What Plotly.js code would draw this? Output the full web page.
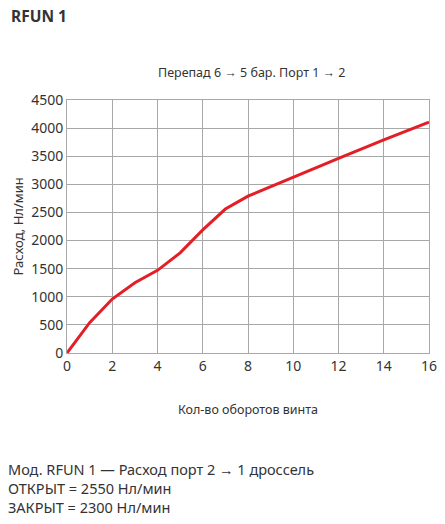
<!DOCTYPE html>
<html>
<head>
<meta charset="utf-8">
<script src="https://cdn.plot.ly/plotly-3.0.1.min.js"></script>
<style>html,body{margin:0;padding:0;background:#fff;}#chart{width:445px;height:524px;}</style>
</head>
<body>
<div id="chart"></div>
<script>
var turns = [0, 1, 2, 3, 4, 5, 6, 7, 8, 10, 12, 14, 16];
var flow = [0, 540, 960, 1250, 1470, 1780, 2190, 2560, 2790, 3130, 3460, 3790, 4105];
var xTicks = [0, 2, 4, 6, 8, 10, 12, 14, 16];
var yTicks = [0, 500, 1000, 1500, 2000, 2500, 3000, 3500, 4000, 4500];

var FONT = 'Noto Sans, sans-serif';
var trace = {
  x: turns, y: flow, type: 'scatter', mode: 'lines',
  line: {color: '#e41e26', width: 3},
  hoverinfo: 'skip'
};
var layout = {
  width: 445, height: 524,
  margin: {l: 67, r: 16, t: 100, b: 171},
  paper_bgcolor: '#fff', plot_bgcolor: '#fff',
  showlegend: false,
  font: {family: FONT, color: '#333', size: 14},
  xaxis: {
    range: [0, 16], tickvals: xTicks, ticktext: xTicks.map(String),
    showgrid: true, gridcolor: '#a8a8a8', gridwidth: 1,
    showline: true, linecolor: '#a8a8a8', linewidth: 1, mirror: true,
    zeroline: false, ticks: '', tickfont: {size: 14, color: '#333'},
    fixedrange: true
  },
  yaxis: {
    range: [0, 4500], tickvals: yTicks, ticktext: yTicks.map(String),
    showgrid: true, gridcolor: '#a8a8a8', gridwidth: 1,
    showline: true, linecolor: '#a8a8a8', linewidth: 1, mirror: true,
    zeroline: false, ticks: '', ticklen: 0, tickfont: {size: 14, color: '#333'},
    fixedrange: true
  },
  annotations: [
    {text: '<b>RFUN 1</b>', xref: 'paper', yref: 'paper', x: -58/362, y: 1 + 84/253, xanchor: 'left', yanchor: 'middle', showarrow: false, font: {size: 15.5, color: '#333', family: FONT}},
    {text: 'Перепад 6 → 5 бар. Порт 1 → 2', xref: 'paper', yref: 'paper', x: 0.51, y: 1 + 28/253, xanchor: 'center', yanchor: 'middle', showarrow: false, font: {size: 12.5, color: '#333', family: FONT}},
    {text: 'Кол-во оборотов винта', xref: 'paper', yref: 'paper', x: 0.5, y: -56/253, xanchor: 'center', yanchor: 'middle', showarrow: false, font: {size: 12.5, color: '#333', family: FONT}},
    {text: 'Расход, Нл/мин', xref: 'paper', yref: 'paper', x: -50/362, y: 0.5, xanchor: 'center', yanchor: 'middle', textangle: -90, showarrow: false, font: {size: 13, color: '#333', family: FONT}},
    {text: 'Мод. RFUN 1 — Расход порт 2 → 1 дроссель<br>ОТКРЫТ = 2550 Нл/мин<br>ЗАКРЫТ = 2300 Нл/мин', xref: 'paper', yref: 'paper', x: -61/362, y: -135/253, xanchor: 'left', yanchor: 'middle', align: 'left', showarrow: false, font: {size: 14.5, color: '#333', family: FONT}}
  ]
};
Plotly.newPlot('chart', [trace], layout, {displayModeBar: false, staticPlot: true});
</script>
</body>
</html>
